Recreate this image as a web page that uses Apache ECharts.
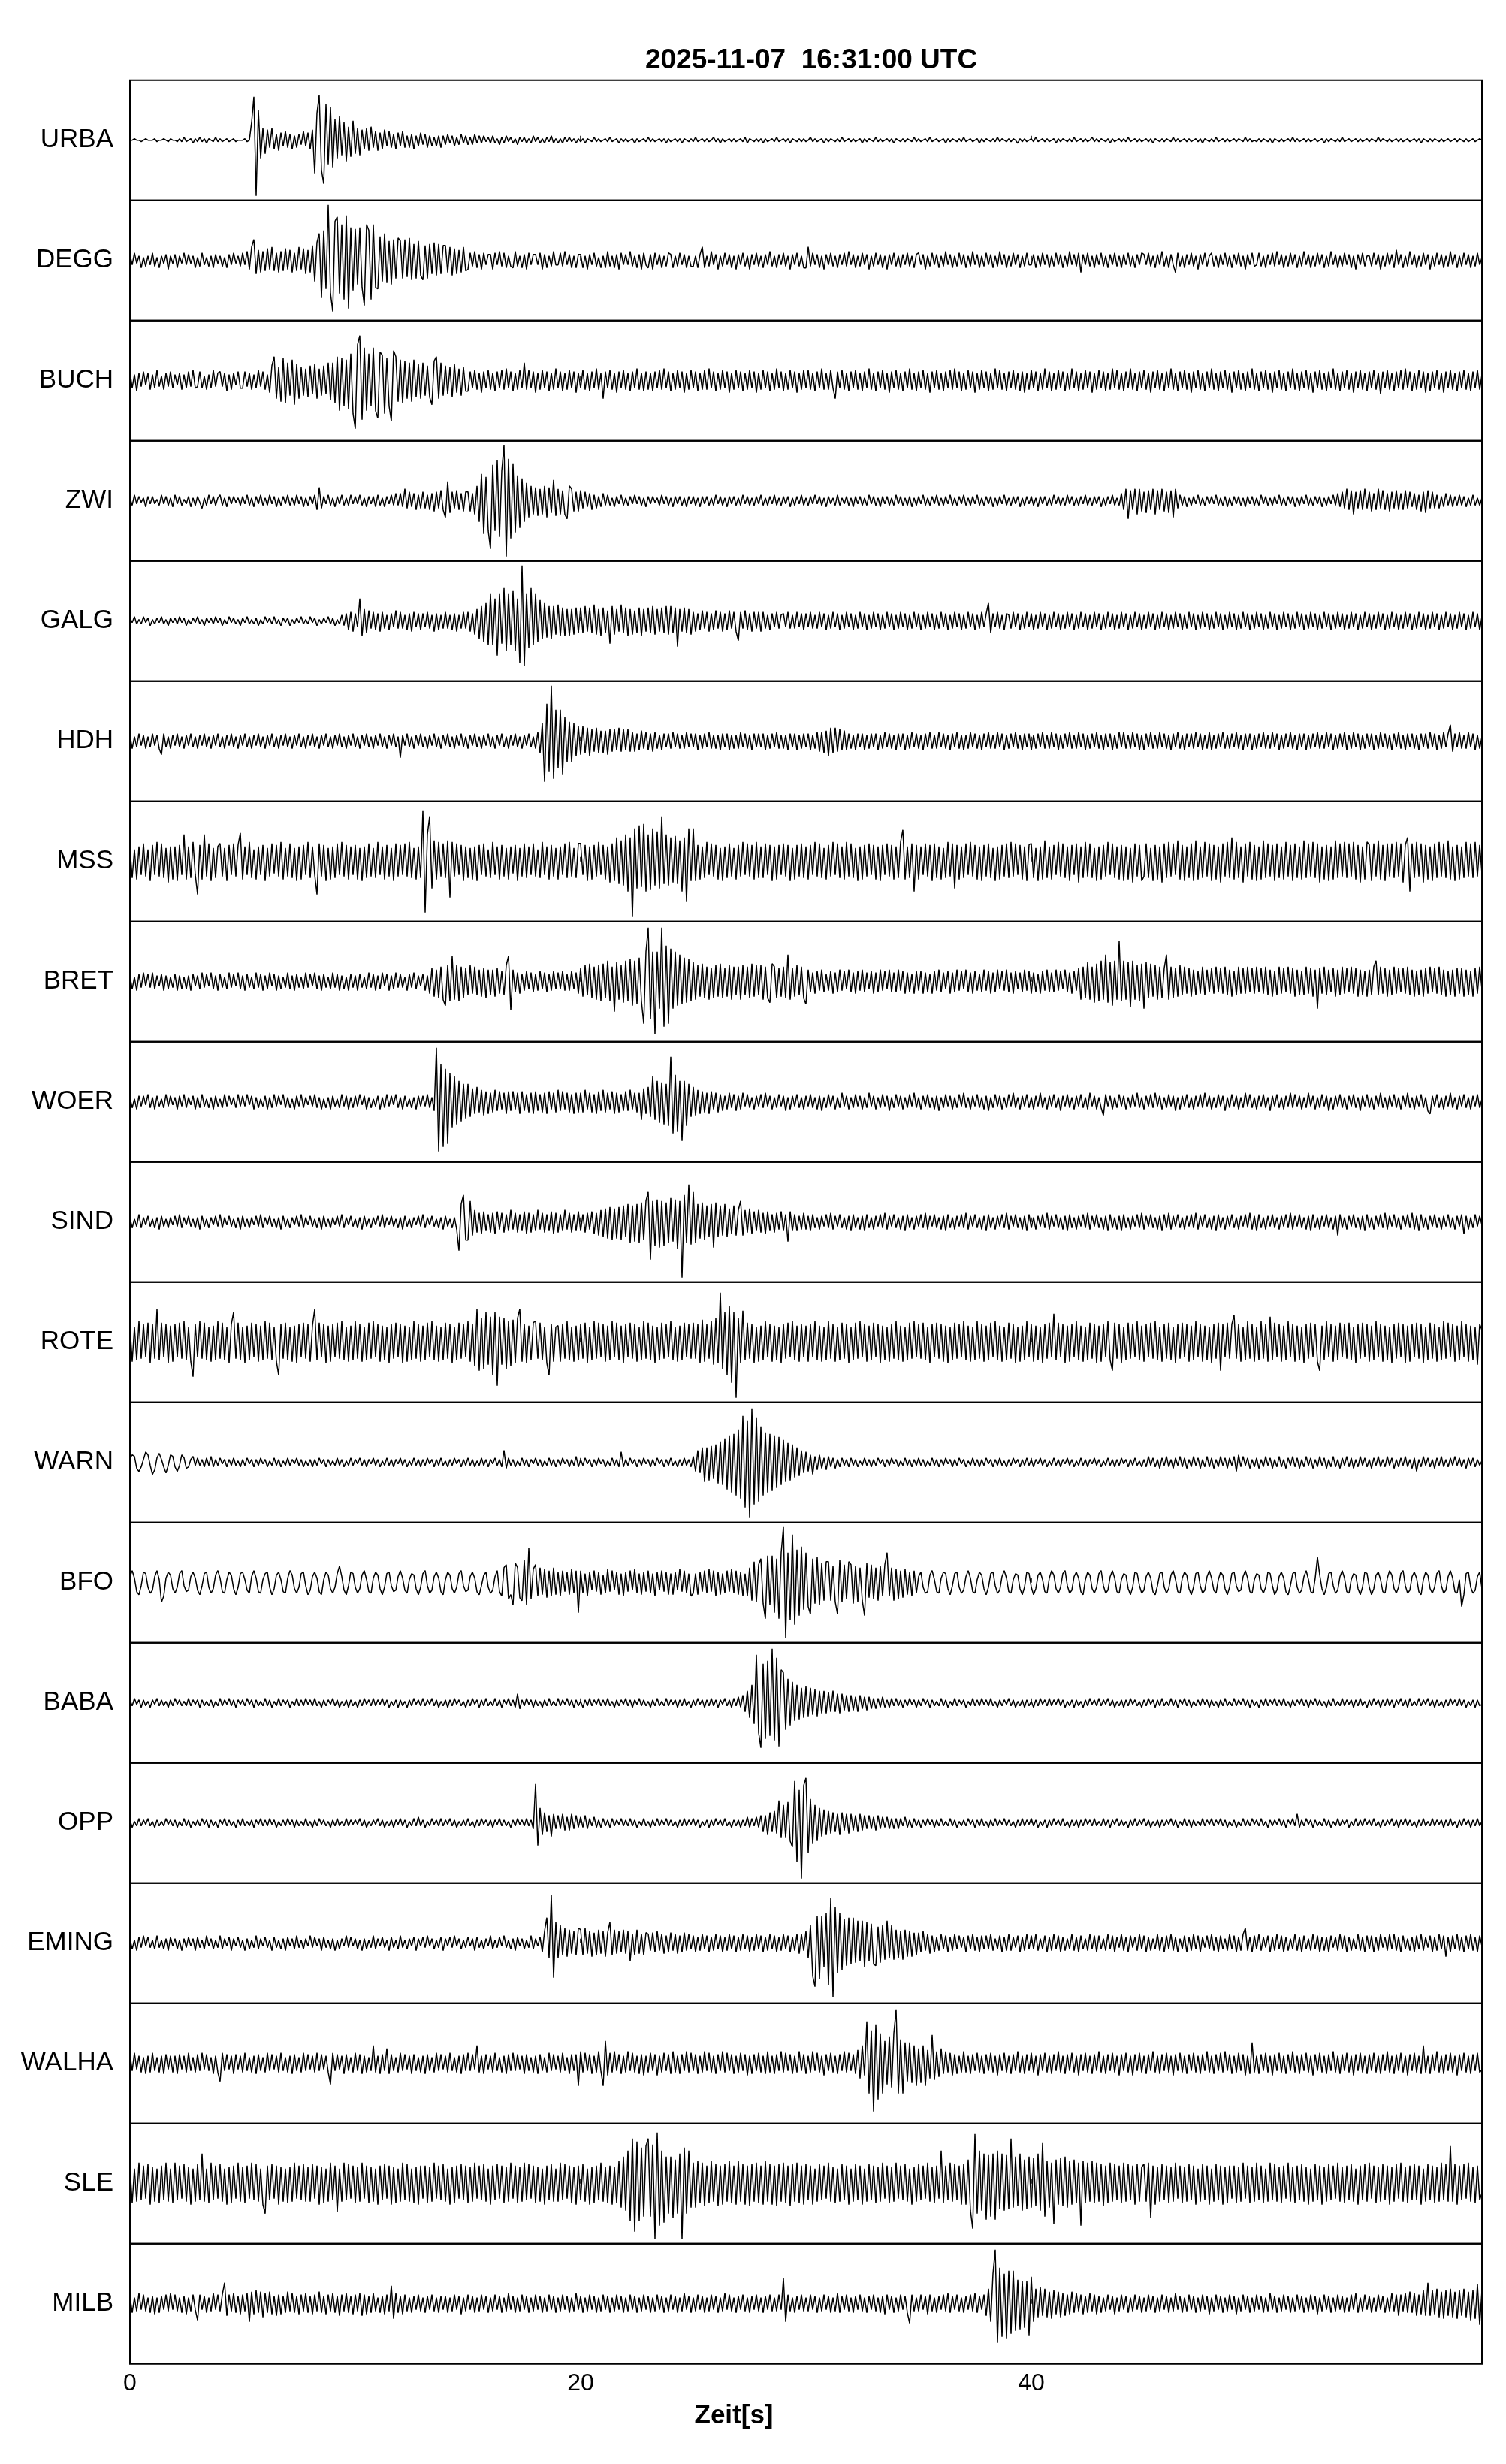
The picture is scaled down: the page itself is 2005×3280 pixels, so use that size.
<!DOCTYPE html>
<html><head><meta charset="utf-8">
<script src="https://cdn.jsdelivr.net/npm/echarts@6/dist/echarts.min.js"></script>
<style>html,body{margin:0;padding:0;background:#fff}#c{width:2005px;height:3280px}</style>
</head><body><div id="c"></div>
<script>
const stations = ['URBA','DEGG','BUCH','ZWI','GALG','HDH','MSS','BRET','WOER','SIND','ROTE','WARN','BFO','BABA','OPP','EMING','WALHA','SLE','MILB'];
const sampleStep = 0.1; // seconds between samples
const xTickLabels = [0, 20, 40];
const titleText = '2025-11-07  16:31:00 UTC';
const xAxisTitle = 'Zeit[s]';

const URBA = [
0,0,1,0,0,-1,0,1,0,0, 0,1,-1,0,0,1,0,-1,1,0, 0,-1,1,-1,2,-1,0,1,-2,1, -1,2,-1,1,-2,1,0,-1,2,-1, 1,-1,0,1,-1,0,1,-1,0,0,
0,1,-1,0,12,29,-37,20,-12,8, -9,7,-5,8,-6,4,-7,5,-4,6, -5,4,-6,3,-5,4,-3,6,-4,5, -6,7,-22,18,30,-20,-29,24,-16,22, -18,14,-12,16,-10,12,-14,9,-11,13,
-9,8,-10,7,-6,8,-7,9,-5,6, -7,5,-6,7,-4,6,-5,4,-6,5, -4,6,-5,3,-5,4,-6,3,-4,5, -3,4,-5,3,-4,2,-4,3,-5,3, -3,4,-2,3,-4,2,-3,4,-2,3,
-3,2,-3,4,-2,3,-2,3,-1,2, -2,3,-2,1,-3,2,-2,3,-1,2, -2,1,-3,2,-1,2,-2,1,-2,3, -1,2,-2,1,-2,2,-1,3,-2,1, -2,1,-2,2,-1,2,-1,1,-2,1,
-1,1,-2,1,0,-1,2,-1,1,-1, 0,1,-1,2,-1,0,1,-2,1,-1, 1,-1,0,1,-2,1,-1,0,1,-1, 2,-1,1,-1,0,1,-1,1,-2,1, -1,0,1,-1,1,-2,1,0,-1,1,
-1,2,-1,0,1,-1,1,-1,0,2, -1,1,-2,1,-1,0,1,-1,1,-1, 0,1,-1,2,-2,1,0,-1,1,-1, 1,-2,1,-1,0,1,-1,2,-1,0, 1,-1,1,-2,1,0,-1,1,-1,1,
-1,0,2,-1,1,-1,0,1,-2,1, -1,1,0,-1,1,-1,2,-1,0,1, -1,1,-1,0,1,-2,1,-1,1,0, -1,2,-1,1,-1,0,1,-1,1,-2, 1,0,-1,1,-1,1,0,-1,2,-1,
1,-1,0,1,-1,2,-1,0,1,-1, 0,1,-2,1,-1,1,0,-1,1,-1, 2,-1,0,1,-1,0,1,-2,1,-1, 1,0,-1,1,-1,2,-1,1,0,-1, 1,-1,1,0,-2,1,-1,1,-1,0,
1,-1,2,-1,0,1,-1,1,-1,0, 1,-2,1,-1,1,0,-1,1,-1,2, -1,0,1,-1,1,-1,0,2,-1,1, -1,1,0,-1,1,-2,1,-1,0,1, -1,1,-1,2,-1,0,1,-1,1,-1,
0,1,-1,1,-2,1,0,-1,1,-1, 1,0,-1,2,-1,1,-1,0,1,-1, 1,-1,0,1,-1,1,-2,1,0,-1, 1,-1,2,-1,0,1,-1,1,-1,0, 1,-1,1,0,-1,2,-1,1,-1,0,
-1,1,-1,1,0,-1,1,-2,1,0, -1,1,-1,0,1,-1,2,-1,1,-1, 0,1,-1,1,-1,0,1,-1,0,1, -2,1,-1,1,0,-1,1,-1,2,-1, 0,1,-1,0,1,-1,1,-1,0,1,
-1,1,0,-1,2,-1,1,0,-1,1, -1,0,1,-1,1,-1,0,1,-1,0, 1,-1,1,-2,1,0,-1,1,-1,1, 0,-1,1,-1,0,1,-1,0,1,-1, 1,0,-1,1,-1,0,1,-1,0,1,
0];

const DEGG = [
4,-3,5,-2,3,-5,2,-4,3,-3, 5,-4,2,-5,3,-2,4,-6,3,-2, 4,-5,3,-2,5,-3,4,-2,3,-5, 2,-4,5,-3,2,-4,3,-5,4,-2, 3,-4,2,-5,4,-3,5,-2,3,-4,
5,-3,6,-6,9,14,-9,7,-8,6, -7,8,-6,9,-7,5,-8,6,-7,8, -6,7,-8,5,-7,9,-6,8,-9,7, -8,10,-14,12,18,-25,20,-19,37,-22, -34,26,29,-22,24,-26,30,-32,22,-20,
21,-16,22,-18,-30,24,20,-26,24,-18, -19,16,-14,18,-15,13,-16,14,-12,15, 13,-12,14,-11,15,-13,11,-12,13,-10, -13,10,-12,11,-9,12,-10,11,-9,10, 10,-8,9,-10,8,-9,7,-8,9,-7,
-6,5,-4,6,-5,4,-6,5,-3,4, 4,-6,5,-3,6,-4,5,-5,3,-4, -5,6,-4,3,-5,4,-6,5,-3,4, 4,-3,5,-6,4,-5,3,-4,6,-3, -3,5,-4,6,-3,4,-5,3,-5,4,
4,-5,3,-6,4,-3,5,-4,2,-5, 3,-5,6,-4,3,-5,4,-6,5,-3, 4,-3,6,-4,3,-5,4,-6,5,-3, -5,4,-6,5,-3,4,-5,3,-4,5, 4,-5,3,-4,5,-3,4,-5,3,-4,
-4,3,-5,4,9,-5,3,-4,6,-3, 4,-6,3,-4,5,-3,4,-5,3,-6, 4,-3,5,-4,3,-6,4,-3,5,-4, 3,-5,4,-3,6,-4,3,-5,4,-3, 5,-4,3,-6,4,-3,5,-4,3,-5,
-5,9,-4,5,-3,4,-5,3,-6,4, -3,5,-4,3,-5,4,-3,5,-4,6, -3,4,-5,3,-4,5,-3,4,-6,3, -4,5,-3,4,-5,3,-6,4,-3,5, -4,3,-5,4,-3,5,-4,3,-5,4,
5,-3,4,-6,3,-4,5,-3,4,-5, 3,-4,6,-3,4,-5,3,-4,5,-3, 4,-5,3,-4,6,-3,4,-5,3,-4, 5,-3,4,-5,3,-4,6,-3,4,-5, 3,-4,5,-3,4,-5,3,-4,5,-3,
-3,4,-5,3,-4,5,-3,4,-5,3, -4,5,-3,4,-5,3,-4,6,-3,4, -4,5,-8,4,-3,5,-4,3,-5,4, -3,5,-4,3,-5,4,-3,5,-4,3, -5,4,-3,5,-4,3,-5,4,-3,5,
4,-3,5,-4,3,-5,4,-3,6,-4, 3,-5,4,-3,-8,5,-4,3,-5,4, -3,5,-4,3,-6,4,-3,5,-4,3, 5,-4,3,-5,4,-3,5,-4,3,-5, 4,-3,5,-4,3,-6,4,-3,5,-4,
-3,5,-4,3,-5,4,-3,5,-4,6, -3,4,-5,3,-4,5,-3,4,-5,3, -4,6,-3,4,-5,3,-4,5,-3,4, -5,3,-4,6,-3,4,-5,3,-4,5, -3,4,-5,3,-6,4,-3,5,-4,3,
3,-4,5,-3,4,-6,3,-4,5,-3, 4,-5,7,-3,4,-5,3,-4,6,-3, 4,-5,3,-4,5,-3,4,-6,3,-4, 5,-3,4,-5,3,-4,6,-3,4,-5, 3,-4,5,-3,4,-5,3,-4,5,-3,
2];

const BUCH = [
6,-5,4,-7,5,-4,6,-3,5,-6, 4,-5,7,-4,3,-6,5,-4,6,-5, 4,-3,5,-6,4,-5,6,-4,7,-5, -4,6,-5,3,-6,4,-5,7,-4,5, 6,-4,5,-7,4,-6,5,-3,6,-5,
-5,6,-4,5,-6,4,-5,7,-4,6, -6,4,-8,10,16,-12,9,-14,15,-15, 12,-10,14,-16,11,-12,9,-10,8,-11, 10,-9,11,-12,8,-10,10,-9,12,-13, 12,-15,16,-20,15,-17,14,-19,18,-22,
-32,24,30,-26,22,-20,18,-17,22,-20, -25,19,17,-22,15,-17,-27,20,16,-14, 14,-15,13,-12,12,-14,14,-11,11,-12, 12,-10,10,-11,-16,13,16,-12,12,-10, 10,-9,9,-11,11,-8,8,-10,9,-7,
-7,6,-5,7,-6,5,-8,6,-5,7, -6,5,-7,6,-5,7,-6,8,-5,6, -7,5,-6,7,-5,12,-6,7,-5,6, -8,5,-6,7,-5,6,-7,5,-6,8, -5,6,-7,5,-6,7,-5,6,-8,5,
-5,7,-6,5,-7,6,-5,8,-6,5, -12,6,-5,7,-6,5,-8,6,-5,7, -6,5,-7,6,-5,8,-6,5,-7,6, -6,5,-7,6,-5,7,-6,8,-5,6, -7,5,-6,7,-5,6,-8,5,-6,7,
-5,6,-7,5,-6,7,-6,8,-5,6, -7,5,-6,7,-5,6,-8,5,-6,7, -5,6,-7,5,-6,7,-5,6,-8,5, -6,7,-5,6,-7,5,-6,8,-5,6, -7,5,-6,7,-5,6,-8,5,-6,7,
-5,7,-6,5,-7,6,-5,8,-6,5, -6,7,-5,-12,6,-5,7,-6,5,-7, 6,-5,7,-6,5,-7,6,-5,8,-6, 5,-7,6,-5,7,-6,5,-8,6,-5, 7,-6,5,-7,6,-5,8,-6,5,-7,
6,-5,7,-6,5,-8,6,-5,7,-6, 5,-7,6,-5,7,-6,8,-5,6,-7, 5,-6,7,-5,6,-8,5,-6,7,-5, 6,-7,5,-6,8,-5,7,-6,5,-7, 6,-5,7,-6,5,-7,6,-8,5,-6,
7,-5,6,-7,5,-6,8,-5,6,-7, 5,-6,7,-5,6,-7,5,-6,8,-5, 6,-7,5,-6,7,-5,6,-8,5,-6, 7,-5,6,-7,5,-6,8,-5,7,-6, 5,-7,6,-5,8,-6,5,-7,6,-5,
7,-6,5,-8,6,-5,7,-6,5,-7, 6,-5,8,-6,5,-7,6,-5,7,-6, 5,-8,6,-5,7,-6,5,-7,6,-5, 8,-6,5,-7,6,-5,7,-6,5,-8, 6,-5,7,-6,5,-7,6,-5,8,-6,
5,-7,6,-5,7,-6,5,-8,6,-5, 7,-6,5,-7,6,-5,8,-6,5,-7, 6,-5,7,-6,5,-8,6,-5,7,-6, 5,-7,6,-5,8,-6,5,-7,6,-5, 7,-6,5,-8,6,-5,7,-6,5,-7,
6,-5,7,-6,5,-9,6,-5,7,-6, 5,-7,6,-5,7,-6,8,-5,6,-7, 5,-6,7,-5,6,-8,5,-7,6,-5, 7,-6,5,-8,6,-5,7,-6,5,-7, 6,-5,7,-6,5,-7,6,-5,7,-6,
4];

const ZWI = [
2,-3,4,-2,3,-1,2,-4,3,-2, 3,-2,1,-3,4,-2,3,-3,2,-4, 4,-2,3,-3,1,-2,3,-4,2,-3, 3,-1,-5,2,-3,4,-2,3,-3,2, 4,-3,2,-4,3,-2,3,-1,2,-3,
3,-2,4,-3,2,-4,3,-2,4,-3, 2,-3,4,-2,3,-4,2,-3,3,-2, 4,-3,2,-3,4,-2,3,-4,2,-3, 3,-2,4,-6,9,-5,3,-2,4,-3, 2,-4,3,-2,4,-3,2,-3,4,-2,
3,-2,4,-3,2,-4,3,-2,3,-4, 4,-3,2,-4,3,-2,4,-3,5,-3, 5,-4,8,-5,6,-4,5,-6,4,-5, 6,-5,4,-6,5,-7,6,-5,7,-6, -11,13,-8,6,-5,7,-6,5,-7,6,
6,-7,5,-9,10,-14,18,-22,16,-20, -32,24,-20,27,-24,20,37,-37,28,-25, 25,-21,17,-18,15,-14,12,-11,10,-9, 9,-10,8,-9,10,-11,9,-8,14,-10, 8,-9,7,-9,-12,10,8,-7,6,-7,
7,-5,6,-4,5,-6,4,-5,3,-4, 5,-3,4,-3,2,-4,3,-2,4,-3, 2,-3,3,-2,4,-2,3,-3,2,-4, 3,-2,3,-1,2,-3,4,-2,3,-3, 2,-4,3,-2,3,-3,2,-4,3,-2,
3,-3,2,-4,3,-2,3,-3,2,-3, 4,-2,3,-3,2,-4,3,-2,3,-3, 2,-3,4,-2,3,-3,2,-3,3,-2, 4,-3,2,-3,3,-2,4,-3,2,-3, 3,-2,3,-4,2,-3,3,-2,4,-3,
2,-3,3,-2,4,-2,3,-3,2,-4, 3,-2,2,-3,4,-3,2,-2,3,-3, 2,-4,3,-2,3,-3,2,-3,4,-2, 3,-3,2,-4,3,-2,3,-3,2,-3, 4,-2,3,-3,2,-3,3,-4,2,-3,
3,-2,4,-3,2,-3,3,-2,4,-3, 2,-3,3,-2,4,-3,2,-3,3,-2, 4,-3,2,-3,3,-2,4,-3,2,-3, 3,-2,3,-4,2,-3,3,-2,4,-3, 2,-3,3,-2,3,-4,2,-3,3,-2,
3,-3,2,-4,3,-2,3,-3,2,-3, 4,-2,3,-3,2,-3,4,-2,3,-3, 2,-3,3,-2,4,-3,2,-3,3,-2, 3,-4,2,-3,3,-2,4,-3,2,-3, 5,-6,8,-12,7,-6,8,-9,8,-7,
6,-8,7,-6,8,-9,7,-6,8,-7, 6,-8,7,-11,8,-5,4,-3,3,-4, 2,-3,3,-2,4,-3,2,-3,3,-2, 3,-2,4,-3,2,-3,3,-4,2,-3, 3,-2,3,-3,2,-4,3,-2,3,-3,
2,-3,4,-2,3,-3,2,-3,3,-2, 4,-3,2,-3,3,-2,3,-4,2,-3, 3,-2,4,-3,2,-3,3,-2,3,-4, 2,-3,3,-2,4,-3,5,-4,6,-5, 8,-6,7,-9,6,-5,7,-6,8,-5,
6,-7,5,-6,8,-5,7,-6,5,-7, 6,-5,7,-6,5,-6,7,-5,6,-4, 5,-6,4,-7,6,-8,7,-5,6,-5, 4,-5,3,-4,5,-3,4,-4,3,-3, 4,-3,3,-4,2,-3,4,-3,2,-3,
2];

const GALG = [
2,-1,3,-2,1,-2,3,-1,2,-3, 1,-2,2,-1,3,-2,1,-3,2,-1, 2,-2,3,-1,2,-3,1,-2,2,-1, 3,-2,1,-3,2,-1,2,-2,3,-1, 2,-3,1,-2,3,-1,2,-2,1,-3,
2,-1,3,-2,1,-2,2,-3,1,-2, 3,-1,2,-2,3,-2,1,-3,2,-1, 2,-3,1,-2,2,-1,3,-2,1,-2, 3,-1,2,-3,1,-2,2,-1,3,-2, 2,-3,1,-2,4,-3,5,-6,6,-7,
5,-4,15,-10,8,-8,7,-5,6,-6, 5,-7,6,-5,4,-6,5,-4,7,-5, 6,-5,4,-6,5,-7,6,-4,5,-6, 5,-4,6,-5,4,-7,5,-6,4,-5, 6,-5,4,-6,5,-7,4,-5,6,-5,
6,-7,5,-9,8,-12,10,-14,12,-16, 18,-16,15,-23,18,-15,22,-20,18,-16, 20,-20,15,-28,37,-30,18,-18,22,-16, 18,-14,14,-12,12,-11,10,-12,10,-9, 11,-10,9,-10,8,-10,8,-9,9,-8,
9,-8,10,-7,9,-8,11,-9,8,-10, 9,-8,7,-15,10,-9,8,-7,11,-8, 9,-10,8,-9,7,-8,9,-10,8,-7, 9,-8,10,-9,8,-7,9,-8,10,-9, 10,-8,9,-17,8,-7,9,-8,8,-9,
6,-7,5,-6,7,-5,6,-7,5,-6, 7,-5,6,-7,5,-6,7,-5,6,-7, -13,6,-5,7,-6,5,-7,6,-5,6, -7,6,-5,4,-6,5,-4,6,-5,4, 5,-4,6,-5,4,-5,6,-4,5,-6,
5,-4,6,-5,4,-5,6,-4,5,-6, 4,-5,6,-4,5,-6,4,-5,6,-4, 5,-6,4,-5,6,-4,5,-6,4,-5, 6,-4,5,-6,4,-5,6,-4,5,-6, 4,-5,6,-4,5,-6,4,-5,6,-4,
5,-6,4,-5,6,-4,5,-6,4,-5, 6,-4,5,-6,4,-5,6,-4,5,-6, 4,-5,6,-4,5,-6,4,-5,6,-4, 5,12,-8,5,-4,6,-5,4,-6,5, 4,-5,6,-4,5,-6,4,-5,6,-4,
5,-6,4,-5,6,-4,5,-6,4,-5, 6,-4,5,-6,4,-5,6,-4,5,-6, 4,-5,6,-4,5,-6,4,-5,6,-4, 5,-6,4,-5,6,-4,5,-6,4,-5, 6,-4,5,-6,4,-5,6,-4,5,-6,
4,-5,6,-4,5,-6,4,-5,6,-4, 5,-6,4,-5,6,-4,5,-6,4,-5, 6,-4,5,-6,4,-5,6,-4,5,-6, 4,-5,6,-4,5,-6,4,-5,6,-4, 5,-6,4,-5,6,-4,5,-6,4,-5,
6,-4,5,-6,4,-5,6,-4,5,-6, 4,-5,6,-4,5,-6,4,-5,6,-4, 5,-6,4,-5,6,-4,5,-6,4,-5, 6,-4,5,-6,4,-5,6,-4,5,-6, 4,-5,6,-4,5,-6,4,-5,6,-4,
5,-6,4,-5,6,-4,5,-6,4,-5, 6,-4,5,-6,4,-5,6,-4,5,-6, 4,-5,6,-4,5,-6,4,-5,6,-4, 5,-6,4,-5,6,-4,5,-6,4,-5, 6,-4,5,-6,4,-5,6,-4,5,-6,
3];

const HDH = [
4,-5,3,-4,5,-3,4,-5,3,-4, 5,-3,4,-5,-9,5,-4,3,-5,4, -3,5,-4,3,-5,4,-3,5,-4,3, -5,4,-3,5,-4,3,-5,4,-3,5, -4,3,-5,4,-3,5,-4,3,-5,4,
-3,5,-4,3,-5,4,-3,5,-4,3, -5,4,-3,5,-4,3,-5,4,-3,5, -4,3,-5,4,-3,5,-4,3,-5,4, -3,5,-4,3,-5,4,-3,5,-4,3, -5,4,-3,5,-4,3,-5,4,-3,5,
-4,3,-5,4,-3,5,-4,3,-5,4, -3,5,-4,3,-5,4,-3,5,-4,3, -11,4,-3,5,-4,3,-5,4,-3,5, -4,3,-5,4,-3,5,-4,3,-5,4, -3,5,-4,3,-5,4,-3,5,-4,3,
-5,4,-3,5,-4,3,-5,4,-3,5, -4,3,-5,4,-3,5,-4,3,-5,4, -3,5,-4,3,-5,4,-3,5,-4,3, -5,6,-8,12,-27,25,-20,37,-25,21, -18,21,-22,16,-14,13,-14,12,-10,10,
-9,10,-8,9,-10,8,-7,9,-8,7, -8,7,-9,8,-7,8,-6,9,-7,8, -6,8,-7,6,-7,5,-6,7,-5,6, -6,5,-7,6,-5,4,-6,5,-4,5, -5,6,-4,5,-5,4,-5,6,-4,5,
-4,5,-6,4,-5,5,-4,6,-5,4, -5,4,-6,5,-4,5,-6,4,-5,4, -5,6,-4,5,-5,4,-6,5,-4,5, -4,5,-6,4,-5,5,-4,6,-5,4, -5,4,-6,5,-4,5,-6,4,-5,5,
-4,5,-6,4,-5,6,-7,6,-8,7, -10,9,-8,9,-7,8,-6,7,-6,5, -5,4,-6,5,-4,5,-6,4,-5,5, -4,5,-6,4,-5,6,-4,5,-5,4, -6,5,-4,5,-6,4,-5,6,-4,5,
-5,4,-6,5,-4,6,-5,4,-5,6, -4,5,-5,4,-6,5,-4,6,-5,4, -6,4,-5,6,-4,5,-5,4,-6,5, -4,6,-5,4,-5,6,-4,5,-6,4, -5,5,-4,6,-5,4,-6,5,-4,5,
-6,4,-5,5,-4,6,-5,4,-5,6, -4,5,-6,4,-5,5,-4,6,-5,4, -5,6,-4,5,-6,4,-5,5,-4,6, -5,4,-6,5,-4,5,-6,4,-5,6, -4,6,-5,4,-5,6,-4,5,-6,4,
-6,5,-4,6,-5,4,-5,6,-4,5, -5,4,-6,5,-4,6,-5,4,-6,5, -4,5,-5,6,-4,5,-6,4,-5,6, -6,4,-5,5,-4,6,-5,4,-5,5, -4,6,-5,4,-6,5,-4,5,-6,4,
-5,5,-4,6,-5,4,-5,6,-4,5, -6,4,-5,5,-4,6,-5,4,-6,5, -4,5,-6,4,-5,5,-4,6,-5,4, -5,6,-4,5,-6,4,-5,5,-4,6, -6,4,-5,6,-4,5,-6,4,-5,5,
-4,5,-6,4,-5,6,-4,5,-5,4, -6,5,-4,6,-5,4,-6,5,-4,5, -5,4,-6,5,-4,5,-5,6,-4,5, -6,4,-5,6,-4,5,11,-7,5,-4, 6,-5,4,-5,6,-4,5,-6,4,-5,
3];

const MSS = [
9,-11,8,-12,10,-9,12,-10,8,-13, 11,-9,13,-10,12,-11,9,-14,10,-12, 10,-13,11,-9,18,-12,10,-11,13,-9, -22,11,-12,18,-10,12,-13,9,-11,10, 12,-10,9,-13,11,-9,12,-10,11,19,
-12,10,-9,13,-11,8,-12,10,-9,11, -13,9,-10,12,-8,11,-10,13,-12,9, -10,12,-11,9,-13,10,-12,11,-9,13, -11,10,-9,-22,12,-10,11,-13,9,-12, 10,-11,12,-9,13,-10,11,-12,10,-9,
11,-12,9,-13,10,-11,12,-10,9,-11, 13,-9,10,-12,11,-10,9,-13,12,-10, 11,-9,12,-10,13,-11,9,-12,10,-11, 34,-34,18,30,-18,14,-12,13,-10,12, -11,14,-24,13,-10,12,-9,11,-13,10,
-11,9,-12,10,-13,11,-9,12,-10,8, -11,13,-9,10,-12,11,-10,9,-12,10, -8,11,-13,9,-10,12,-11,10,-9,12, -10,8,-11,13,-9,10,-12,11,-10,9, -12,10,-9,12,-11,13,-10,9,-11,12,
12,-9,11,-13,10,-12,11,-10,13,-9, 11,-12,10,-14,12,-13,16,-15,14,-16, 18,-20,16,-37,22,-18,24,-17,25,-20, 18,-19,22,-16,20,-18,30,-15,18,-16, 16,-14,17,-15,14,-20,16,-27,22,-13,
22,-13,11,-12,10,-11,13,-9,12,-10, 11,-12,9,-13,10,-11,12,-10,9,-12, 11,-10,13,-9,12,-10,11,-12,13,-11, 10,-11,12,-9,11,-13,10,-12,11,-9, 12,-10,11,-13,9,-12,11,-10,12,-11,
10,-12,11,-9,13,-10,12,-11,9,-12, 11,-10,13,-9,12,-11,10,-12,13,-10, 12,-11,9,-13,10,-12,11,-10,12,-9, 11,-12,10,-13,11,-9,12,-10,11,-12, 10,-11,13,21,-12,10,-11,12,-20,11,
-12,10,-9,12,-10,11,-13,12,-11,10, -12,9,-11,13,-10,12,-18,11,-12,10, -11,12,-9,13,-10,11,-12,10,-13,11, -10,12,-11,9,-13,10,-12,11,-10,12, -11,13,-10,12,-9,11,-12,10,-13,11,
12,-11,9,-13,10,-12,14,-11,10,-12, 11,-9,13,-10,12,-11,10,-13,11,-9, 12,-14,10,-11,13,-10,12,-11,9,-13, 10,-12,11,-10,13,-9,12,-11,10,-12, 11,-13,10,-12,9,-14,12,-10,11,-13,
-10,12,-11,9,-13,11,-12,10,-14,12, -11,13,-10,12,-9,14,-12,11,-13,10, -11,12,-13,14,-12,10,-11,13,-10,12, -13,11,-12,10,-14,12,-10,13,-11,16, -12,13,-11,10,-14,12,-10,13,-12,11,
-13,10,-12,14,-11,12,-10,11,-13,12, -11,10,-12,13,-10,11,-13,12,-11,10, -12,14,-11,12,-10,13,-11,12,-14,10, -12,11,-13,10,-12,14,-11,12,-10,13, -11,12,-10,13,-12,11,-14,10,-12,13,
11,-13,12,-10,14,-12,11,-13,12,-10, 12,-11,13,-10,12,-14,11,16,-20,12, -11,13,-10,12,-14,11,-12,10,-13,12, -11,13,-10,12,-11,14,-12,10,-13,11, -12,10,-11,13,-10,12,-11,13,-10,11,
-8];

const BRET = [
4,-5,3,-6,5,-4,6,-3,5,-4, 6,-5,4,-3,5,-6,4,-5,3,-4, 5,-6,4,-5,3,-5,4,-6,5,-3, 4,-5,6,-4,5,-3,6,-5,4,-6, 5,-4,3,-5,6,-4,5,-3,6,-5,
4,-6,5,-4,3,-5,6,-4,5,-6, 4,-5,6,-3,5,-6,4,-5,3,-4, 6,-5,4,-6,5,-4,3,-5,6,-4, 5,-3,6,-5,4,-6,5,-4,3,-5, 6,-4,5,-6,4,-5,3,-6,5,-4,
4,-6,5,-4,3,-5,6,-4,5,-6, 4,-5,6,-3,5,-6,4,-5,6,-4, 5,-4,3,-6,5,-4,6,-5,4,-3, 5,-6,4,-8,9,-10,8,-11,10,-12, -16,11,-13,17,-12,11,-13,10,-11,9,
-9,11,-8,10,-9,8,-10,9,-11,8, -9,8,-10,9,-8,7,-9,11,17,-19, 8,-7,6,-8,5,-6,7,-5,6,-7, 5,-6,7,-5,6,-7,5,-6,7,-5, 6,-5,7,-6,5,-6,7,-5,6,-8,
9,-10,11,-9,12,-11,10,-12,11,-13, 12,-11,14,-13,10,-20,13,-12,11,-14, 14,-13,15,-16,14,-15,16,-13,-28,20, 36,-25,20,-35,20,-18,36,-30,24,-28, 22,-18,20,-16,18,-15,16,-14,15,-13,
13,-12,11,-10,12,-11,10,-12,9,-11, 11,-10,12,-11,9,-10,11,-12,10,-9, 10,-12,11,-9,10,-11,12,-10,11,-9, 11,-12,10,-11,-14,12,10,-11,9,-10, 10,-11,18,-12,9,-10,11,-9,10,-11,
-15,8,-7,6,-8,7,-6,8,-7,5, -6,7,-8,6,-7,8,-6,7,-5,8, -7,6,-8,7,-6,8,-7,6,-5,7, -8,6,-7,8,-6,7,-5,8,-7,6, -7,8,-6,7,-8,6,-7,5,-8,7,
-6,7,-8,6,-7,5,-8,7,-6,8, -7,6,-5,7,-8,6,-7,8,-6,7, -5,8,-7,6,-8,7,-6,5,-7,8, -6,7,-8,6,-7,8,-5,7,-6,8, -7,6,-8,7,-5,6,-7,8,-6,7,
-8,6,-7,5,-8,7,-6,8,-7,6, -7,8,-6,7,-5,8,-7,6,-8,7, -6,9,-12,10,-11,13,-12,10,-14,12, -13,14,-12,18,-14,13,-16,14,-12,27, -13,14,-12,13,-17,14,-12,11,-13,12,
-18,13,-11,12,-10,11,-12,10,-11,9, 18,-12,10,-11,9,-10,11,-9,10,-8, 9,-10,8,-9,7,-8,10,-9,8,-7, 9,-8,10,-7,9,-8,10,-9,8,-10, 7,-9,10,-8,9,-8,10,-7,9,-8,
10,-7,9,-8,10,-9,8,-10,7,-9, 10,-8,9,-7,10,-8,9,-10,8,-9, 7,-9,10,-8,9,-10,8,-18,9,-8, 10,-9,8,-7,9,-10,8,-9,10,-8, 9,-7,10,-8,9,-10,8,-9,7,-10,
8,-9,10,14,-9,10,-8,9,-10,8, -9,10,-8,9,-7,9,-8,10,-9,8, -10,7,-9,8,-10,9,-8,10,-7,9, -8,10,-9,8,-10,7,-9,8,-10,9, -8,9,-10,8,-9,7,-10,9,-8,10,
-5];

const WOER = [
3,-4,2,-5,4,-3,4,-2,5,-4, 3,-5,4,-3,2,-4,5,-3,4,-2, 3,-5,4,-3,5,-4,3,-2,4,-5, 3,-4,5,-3,2,-4,3,-5,4,-3, 2,-4,5,-3,4,-2,3,-4,5,-3,
4,-3,5,-2,4,-5,3,-4,2,-3, 4,-5,3,-4,5,-3,4,-2,5,-4, 3,-4,2,-5,4,-3,5,-4,3,-2, 4,-3,5,-4,3,-5,2,-4,3,-5, 4,-3,2,-4,5,-3,4,-5,3,-4,
4,-3,5,-2,4,-5,3,-4,2,-3, 4,-5,3,-4,5,-3,4,-2,5,-4, 3,-5,4,-3,2,-4,3,-5,4,-3, 4,-3,5,-4,3,-6,36,-33,25,-30, 22,-28,19,-17,17,-15,14,-13,12,-11,
12,-10,9,-8,10,-7,8,-9,7,-8, 6,-7,8,-6,7,-5,6,-8,7,-6, 7,-5,6,-8,7,-6,5,-7,6,-8, 7,-6,5,-7,6,-8,7,-5,6,-7, 8,-6,7,-5,6,-7,5,-8,6,-7,
6,-7,8,-5,6,-7,5,-8,7,-6, 8,-7,6,-5,7,-8,6,-7,5,-6, 7,-6,8,-5,6,-7,6,-12,9,-8, 10,-10,17,-12,14,-14,13,-15,12,-16, 30,-21,18,-20,14,-26,14,-16,12,-10,
10,-9,8,-8,7,-7,6,-8,7,-5, 6,-7,5,-6,4,-5,6,-4,5,-6, 4,-5,6,-3,5,-4,3,-5,4,-3, 5,-4,6,-3,4,-5,3,-4,5,-3, 4,-6,3,-5,4,-3,5,-4,3,-5,
4,-3,5,-4,3,-5,4,-6,3,-4, 5,-3,4,-5,3,-4,6,-3,4,-5, 3,-4,5,-3,4,-5,3,-4,6,-3, 4,-5,3,-4,5,-3,4,-6,3,-4, 5,-3,4,-5,3,-4,5,-3,6,-4,
3,-5,4,-3,5,-4,3,-5,4,-6, 3,-4,5,-3,4,-5,3,-4,5,-3, 6,-4,3,-5,4,-3,5,-4,3,-5, 4,-6,3,-4,5,-3,4,-5,3,-4, 5,-3,6,-4,3,-5,4,-3,5,-4,
3,-5,4,-3,6,-4,3,-5,4,-3, 5,-4,3,-6,4,-3,5,-4,3,-5, 4,-3,5,-4,3,-5,6,-3,4,-5, 3,-4,-9,5,-3,4,-5,3,-4,5, -3,4,-5,3,-4,5,-3,6,-4,3,
-5,4,-3,5,-4,6,-3,4,-5,3, -4,5,-3,4,-6,3,-5,4,-3,5, -4,3,-5,4,-3,5,-4,6,-3,4, -5,3,-4,5,-3,4,-6,3,-4,5, -3,4,-5,3,-4,6,-3,5,-4,3,
-5,4,-3,5,-4,3,-6,4,-3,5, -4,3,-5,4,-3,6,-4,5,-3,4, -5,3,-4,6,-3,4,-5,3,-4,5, -3,4,-6,3,-5,4,-3,5,-4,3, -5,4,-3,5,-4,3,-6,4,-3,5,
-4,3,-5,4,-3,6,-4,3,-5,4, -3,5,-4,3,-5,4,-3,6,-4,3, -5,4,-3,5,-4,3,-6,-8,4,-3, 5,-4,3,-5,4,-3,6,-4,3,-5, 4,-3,5,-4,3,-5,4,-3,5,-4,
2];

const SIND = [
3,-4,2,-3,5,-4,3,-2,4,-3, 2,-4,3,-5,4,-3,2,-4,3,-2, 4,-3,5,-4,3,-2,4,-3,2,-4, 3,-5,4,-3,2,-4,3,-2,4,-3, 5,-4,3,-2,4,-3,2,-4,3,-5,
4,-3,2,-4,3,-2,4,-3,5,-4, 3,-2,4,-3,2,-4,3,-5,4,-3, 2,-4,3,-2,4,-3,5,-4,3,-2, 4,-3,2,-4,3,-5,4,-3,2,-4, 3,-2,4,-3,5,-4,3,-2,4,-3,
2,-4,3,-5,4,-3,2,-4,3,-2, 4,-3,5,-4,3,-2,4,-3,2,-4, 3,-5,4,-3,2,-4,3,-2,4,-3, 5,-4,3,-2,4,-3,2,-4,3,-5, 4,-3,2,-4,3,-5,-19,12,18,-12,
-12,14,-9,8,-7,6,-8,7,-6,5, -7,6,-8,7,-5,6,-7,5,-6,8, -5,6,-7,5,-6,7,-8,6,-7,5, -6,8,-5,6,-7,5,-6,7,-8,6, -7,5,-6,8,-5,6,-7,5,-6,7,
-6,5,-7,6,-5,7,-8,6,-9,8, -10,9,-11,10,-12,9,-11,10,-12,11, -10,12,-14,11,-13,12,-14,13,-12,14, 20,-25,14,-16,15,-17,14,-16,13,-14, 16,-13,15,-18,14,-37,18,-14,25,-15,
20,-14,12,-11,13,-12,11,-10,12,-17, 13,-10,11,-9,12,-10,9,-8,11,-9, 8,14,-9,8,-7,9,-8,7,-6,8, -7,6,-8,7,-6,5,-7,6,-5,7, -6,5,-13,7,-6,5,-6,4,-5,6,
-5,4,-6,5,-4,3,-5,4,-3,5, -4,6,-5,4,-3,5,-4,3,-5,4, -6,5,-4,3,-5,4,-6,5,-4,3, -5,4,-3,5,-4,6,-5,4,-3,5, -4,3,-5,4,-6,5,-4,3,-5,4,
-3,5,-4,6,-5,4,-3,5,-4,3, -5,4,-6,5,-4,3,-5,4,-3,5, -4,6,-5,4,-3,5,-4,3,-5,4, -6,5,-4,3,-5,4,-3,5,-4,6, -5,4,-3,5,-4,3,-5,4,-6,5,
-4,3,-5,4,-3,5,-4,6,-5,4, -3,5,-4,3,-5,4,-6,5,-4,3, -5,4,-3,5,-4,6,-5,4,-3,5, -4,3,-5,4,-6,5,-4,3,-5,4, -6,5,-4,3,-5,4,-3,5,-4,6,
-5,4,-3,5,-4,3,-5,4,-6,5, -4,6,-5,4,-3,5,-4,3,-5,4, -3,5,-4,6,-5,4,-3,5,-4,3, -5,4,-6,5,-4,3,-5,4,-3,5, -4,3,-5,4,-3,5,-4,6,-5,4,
-6,5,-4,3,-5,4,-3,5,-4,3, -5,4,-3,5,-4,6,-5,4,-3,5, -4,3,-5,4,-6,5,-4,3,-5,4, -3,5,-4,3,-5,4,-9,5,-4,3, -5,4,-3,5,-4,3,-5,4,-6,5,
-4,3,-5,4,-3,5,-4,6,-5,4, -3,5,-4,3,-5,4,-3,5,-4,6, -5,4,-6,5,-4,3,-5,4,-3,5, -4,3,-5,4,-3,5,-4,3,-5,4, -3,5,-8,4,-5,3,-4,5,-3,4,
-2];

const ROTE = [
11,-13,10,-12,14,-11,12,-10,13,-14, 12,-11,22,-12,13,-10,12,-14,11,-13, 12,-10,13,-11,14,-12,10,-13,-23,12, -10,14,-11,13,-12,10,-13,11,-12,14, -11,13,-12,10,-14,12,20,-11,13,-12,
10,-14,11,-12,13,-10,12,-13,11,-12, 14,-11,13,-12,10,-13,-22,12,-11,13, -12,10,-13,11,-14,12,-10,13,-11,12, -13,11,22,-12,13,-10,12,-14,11,-13, 12,-10,13,-11,14,-12,10,-13,11,-12,
14,-11,12,-13,10,-12,13,-11,14,-10, 12,-13,11,-12,10,-14,12,-11,13,-10, 12,-14,11,-13,10,-12,14,-11,12,-13, 11,-12,13,-10,14,-12,11,-13,10,-12, 13,-11,12,-14,10,-12,13,-11,12,-10,
14,-13,12,-16,22,-19,16,-18,20,-15, 17,-22,20,-29,17,-15,16,-18,14,-16, 15,-14,16,22,-13,12,-14,11,-12,13, 14,-11,13,-12,10,-14,-22,12,-13,10, 11,-13,12,-11,14,-12,10,-13,11,-12,
12,-11,13,-14,10,-12,14,-11,13,-10, 12,-13,11,-12,14,-10,13,-12,11,-14, 12,-10,13,-11,12,-13,10,-12,14,-11, 13,-12,11,-14,10,-12,13,-11,12,-10, 14,-12,10,-13,11,-12,13,-10,12,-11,
13,-11,12,-14,15,-13,12,-11,14,-15, 16,-14,33,-18,20,-22,24,-27,20,-37, 16,-14,21,-12,13,-11,12,-14,10,-13, 11,-12,14,-10,12,-13,11,-12,10,-14, 12,-11,13,-10,14,-12,11,-13,12,-10,
11,-13,12,-10,14,-12,11,-13,10,-12, 14,-11,12,-13,10,-12,13,-11,12,-14, 10,-12,13,-11,14,-10,12,-13,11,-12, 13,-10,12,-14,11,-12,10,-13,12,-11, 14,-12,11,-13,10,-12,13,-11,14,-10,
12,-11,13,-12,10,-14,12,-10,13,-11, 12,-13,11,-14,10,-12,13,-11,12,-10, 14,-12,11,-13,10,-12,14,-11,12,-13, 11,-12,13,-10,14,-12,11,-13,10,-12, 13,-11,12,-14,10,-13,11,-12,14,-10,
12,-13,11,-12,10,-14,12,-11,13,-10, 19,-12,13,-10,12,-14,11,-13,12,-10, 14,-12,11,-13,10,-12,13,-11,12,-14, 11,-13,12,-10,14,-12,-19,13,-11,12, -14,10,-12,13,-11,12,-10,14,-12,11,
-13,12,-10,13,-11,14,-12,10,-13,12, -11,13,-12,10,-14,12,-11,13,-10,12, -13,11,-12,14,-10,12,-13,11,-12,10, -14,12,-11,13,-19,12,-10,13,-11,12, 18,-11,12,-13,10,-12,14,-11,12,-13,
10,-12,14,-11,12,-13,17,-12,13,-10, 12,-13,11,-12,14,-10,12,-13,11,-12, 10,-14,12,-11,13,-10,12,-13,-19,11, -12,14,-10,12,-13,11,-12,13,-10,12, -11,13,-12,10,-14,12,-11,13,-10,12,
-13,11,-12,14,-10,12,-13,11,-12,10, -14,12,-11,13,-10,12,-14,11,-13,12, -10,13,-11,12,-14,10,-12,13,-11,12, -13,10,-12,14,-11,13,-10,12,-13,11, -12,14,-10,12,-13,11,-12,10,-15,12,
8];

const WARN = [
3,5,4,-4,-6,-3,2,7,5,-2, -8,-5,3,6,2,-3,-7,-2,5,4, -3,-6,-2,5,3,-4,-3,2,4,-2, 3,-2,2,-3,3,-2,4,-3,2,-2, 3,-1,2,-3,2,-2,3,-2,1,-3,
2,-2,3,-1,2,-3,2,-2,3,-1, 2,-3,1,-2,3,-2,2,-3,1,-2, 3,-2,2,-1,3,-2,2,-3,1,-2, 2,-3,2,-2,3,-1,2,-3,2,-2, 1,-2,3,-2,2,-3,1,-2,3,-2,
2,-1,3,-2,2,-3,2,-1,3,-2, 2,-3,1,-2,3,-2,2,-3,2,-1, 3,-2,2,-3,1,-2,3,-2,2,-3, 2,-2,3,-1,2,-3,2,-2,3,-2, 1,-3,2,-2,3,-1,2,-3,2,-2,
3,-2,2,-3,1,-2,3,-2,2,-3, 2,-1,3,-2,2,-3,8,-4,3,-2, 2,-3,1,-2,3,-2,2,-3,2,-1, 3,-2,2,-3,1,-2,3,-2,2,-3, 2,-2,3,-1,2,-3,2,-2,4,-3,
2,-2,3,-1,2,-3,2,-2,3,-1, 2,-3,1,-2,3,-2,2,-3,7,-3, 2,-2,3,-1,2,-3,2,-2,3,-1, 2,-3,2,-2,3,-1,2,-3,2,-2, 3,-2,1,-3,2,-2,3,-2,2,-3,
4,-6,8,-7,10,-13,10,-12,11,-11, 12,-14,14,-15,16,-18,18,-20,19,-22, 22,-24,31,-30,28,-37,36,-28,30,-26, 24,-22,20,-20,19,-19,18,-17,17,-15, 15,-13,13,-12,12,-10,10,-9,8,-7,
7,-6,5,-8,4,-5,5,-4,3,-5, 4,-3,3,-4,2,-3,3,-2,2,-3, 3,-2,2,-3,1,-2,3,-2,2,-3, 2,-2,3,-1,2,-3,2,-2,3,-1, 2,-3,1,-2,3,-2,2,-3,2,-2,
3,-2,2,-3,1,-2,3,-2,2,-3, 2,-2,3,-1,2,-3,2,-2,3,-1, 2,-3,1,-2,3,-2,2,-3,2,-2, 3,-1,2,-3,2,-2,3,-2,1,-3, 2,-2,3,-1,2,-3,2,-2,3,-2,
2,-3,2,-1,3,-2,2,-3,1,-2, 3,-2,2,-3,2,-1,3,-2,2,-3, 1,-2,3,-2,2,-3,2,-1,3,-2, 2,-3,1,-2,3,-2,2,-3,2,-2, 3,-1,2,-3,2,-2,3,-2,1,-3,
2,-3,4,-2,3,-3,2,-4,3,-2, 4,-3,2,-4,3,-2,4,-3,3,-4, 2,-3,4,-2,3,-4,2,-3,4,-3, 3,-4,2,-3,4,-2,3,-4,3,-2, 4,-6,5,-3,4,-2,3,-4,2,-3,
3,-4,2,-3,4,-2,3,-4,2,-3, 4,-3,2,-4,3,-2,4,-3,3,-4, 2,-3,4,-2,3,-4,2,-3,4,-2, 3,-4,2,-3,4,-3,2,-4,3,-2, 4,-3,3,-4,2,-3,4,-2,3,-3,
2,-4,3,-2,4,-3,2,-3,4,-2, 3,-4,2,-3,3,-2,4,-3,2,-4, 3,-6,2,-3,4,-2,3,-3,2,-4, 3,-2,4,-3,2,-3,3,-2,4,-2, 3,-3,2,-4,3,-2,3,-3,2,-2,
1];

const BFO = [
4,8,3,-6,-8,-2,7,6,-3,-7, -5,4,8,2,-13,-9,3,7,5,-4, -7,-3,6,8,-2,-6,-5,4,7,3, -5,-8,-2,6,7,-3,-7,-4,5,8, 3,-6,-7,2,7,5,-4,-8,-3,6,
7,2,-5,-7,4,8,3,-6,-7,2, 6,7,-3,-8,-4,5,7,2,-6,-7, 3,8,5,-4,-7,-3,6,7,-2,-8, -5,4,7,3,-6,-8,2,7,5,-4, -7,-3,6,11,4,-5,-8,-2,7,6,
-3,-7,-4,5,8,2,-6,-7,3,7, 5,-4,-8,-3,6,7,-2,-6,-5,4, 8,3,-5,-7,2,6,5,-4,-8,-3, 6,8,-2,-7,-5,4,7,3,-6,-8, 2,7,5,-4,-7,-3,6,8,-2,-6,
-5,4,7,3,-6,-8,-2,5,7,-3, -7,-5,4,8,-6,-9,10,12,-11,-8, -15,13,10,-10,-12,15,-15,23,-11,9, 12,-9,10,-8,9,-10,8,-9,10,-8, 7,-9,8,-6,7,-8,9,-7,8,-20,
8,-7,6,-9,7,-5,8,-6,7,-8, 5,-7,9,-6,8,-5,7,-8,6,-9, 7,-6,8,-5,9,-7,6,-8,7,-6, 8,-7,6,-9,7,-5,8,-6,7,-8, 6,-8,7,-5,9,-6,8,-7,6,-9,
-7,6,-8,7,-6,8,-7,9,-6,8, -9,7,-8,6,-7,8,-6,9,-7,8, -8,7,-9,6,-9,10,-12,14,-13,12, 16,-14,-24,18,-15,18,-20,16,-24,20, 37,-37,20,-25,32,-28,22,-22,24,-18,
20,-16,-21,16,-14,17,-15,13,-12,14, 14,-12,11,-13,-21,15,-13,12,-11,14, 12,-14,11,-13,10,-12,-22,13,-10,12, -11,10,-12,11,-9,12,20,-9,10,-12, 9,-11,8,-10,9,-8,7,-9,8,-7,
4,7,-3,-7,-6,5,8,2,-6,-7, 3,7,6,-4,-8,-2,6,7,-3,-7, -5,4,8,3,-6,-7,2,7,5,-4, -8,-3,6,7,-2,-7,-5,4,8,3, -6,-7,2,6,5,-4,-8,-3,7,6,
-3,-8,-4,5,7,2,-6,-7,3,8, 5,-4,-7,-3,6,8,-2,-7,-5,4, 7,3,-6,-8,2,7,5,-4,-7,-3, 6,8,-2,-7,-5,4,8,3,-6,-7, 2,6,5,-4,-8,-3,7,6,-2,-7,
-5,4,7,3,-6,-8,-2,6,7,-3, -7,-4,5,8,2,-6,-7,3,7,5, -4,-8,-3,6,7,-2,-7,-5,4,8, 3,-5,-7,2,7,5,-4,-8,-3,6, 7,-2,-6,-5,4,8,3,-6,-7,2,
6,5,-4,-7,-3,7,6,-2,-8,-5, 4,7,3,-6,-8,-2,6,7,-3,-7, -5,4,8,2,-6,-7,3,17,5,-4, -8,-3,6,7,-2,-7,-5,4,8,3, -6,-7,2,6,5,-4,-8,-3,7,6,
-3,-8,-4,5,7,2,-6,-7,3,8, 5,-4,-7,-3,6,8,-2,-7,-5,4, 7,3,-6,-8,2,7,5,-4,-7,-3, 6,8,-2,-7,-5,4,8,3,-6,-7, 2,-16,-8,6,7,-3,-7,-5,4,7,
-4];

const BABA = [
2,-2,3,-1,2,-3,2,-2,1,-3, 2,-1,3,-2,2,-2,1,-3,2,-2, 3,-1,2,-2,1,-2,3,-2,2,-1, 2,-3,2,-2,1,-2,2,-3,1,-2, 3,-2,2,-1,3,-2,2,-3,2,-1,
2,-2,3,-1,2,-3,2,-2,1,-2, 3,-2,2,-3,1,-2,3,-2,2,-1, 2,-3,1,-2,3,-2,2,-2,3,-1, 2,-2,3,-2,1,-3,2,-2,2,-1, 3,-2,2,-3,1,-2,2,-3,2,-2,
1,-3,2,-2,3,-1,2,-2,3,-2, 2,-1,3,-2,2,-3,1,-2,2,-3, 2,-2,1,-3,2,-2,3,-1,2,-2, 3,-2,2,-1,3,-2,2,-3,1,-2, 2,-3,2,-2,3,-1,2,-2,1,-3,
2,-2,3,-1,2,-3,2,-2,3,-2, 1,-2,3,-2,2,-3,2,-1,3,-2, 2,-3,6,-4,2,-2,3,-1,2,-3, 2,-2,1,-3,2,-2,3,-2,1,-2, 3,-2,2,-1,3,-2,2,-3,2,-2,
1,-3,2,-2,3,-2,2,-1,3,-2, 2,-2,3,-2,1,-3,2,-2,2,-1, 3,-2,2,-3,2,-1,3,-2,2,-2, 1,-3,2,-2,3,-2,1,-2,3,-2, 2,-1,2,-3,2,-2,3,-2,1,-3,
2,-2,3,-1,2,-3,2,-2,3,-2, 2,-3,2,-1,3,-2,2,-3,3,-2, 4,-3,5,-6,8,-10,12,-14,32,-20, -30,26,-24,28,-22,36,-25,30,-29,22, 20,-18,16,-15,14,-12,12,-11,10,-10,
11,-9,10,-8,9,-9,8,-7,8,-7, 7,-6,8,-6,6,-7,6,-5,5,-6, 5,-5,4,-6,5,-4,4,-5,4,-4, 3,-4,3,-3,4,-3,2,-3,3,-2, 3,-2,2,-3,2,-2,3,-1,2,-3,
2,-2,3,-1,2,-3,2,-2,1,-2, 3,-2,2,-3,1,-2,3,-2,2,-1, 2,-3,1,-2,3,-2,2,-2,3,-1, 2,-2,3,-2,1,-3,2,-2,2,-1, 3,-2,2,-3,1,-2,2,-3,2,-2,
1,-3,2,-2,3,-1,2,-2,3,-2, 2,-1,3,-2,2,-3,1,-2,2,-3, 2,-2,1,-3,2,-2,3,-1,2,-2, 3,-2,2,-1,3,-2,2,-3,1,-2, 2,-3,2,-2,3,-1,2,-2,1,-3,
2,-2,3,-1,2,-3,2,-2,3,-2, 1,-2,3,-2,2,-3,2,-1,3,-2, 2,-3,1,-2,2,-2,3,-1,2,-3, 2,-2,1,-3,2,-2,3,-2,1,-2, 3,-2,2,-1,3,-2,2,-3,2,-2,
1,-3,2,-2,3,-2,2,-1,3,-2, 2,-2,3,-2,1,-3,2,-2,2,-1, 3,-2,2,-3,2,-1,3,-2,2,-2, 1,-3,2,-2,3,-2,1,-2,3,-2, 2,-1,2,-3,2,-2,3,-2,1,-3,
2,-2,3,-1,2,-3,2,-2,3,-2, 2,-3,2,-1,3,-2,2,-3,3,-2, 1,-2,3,-2,2,-1,3,-2,2,-3, 2,-2,1,-3,2,-2,3,-1,2,-2, 3,-2,2,-3,1,-2,2,-3,2,-2,
-1];

const OPP = [
2,-3,1,-2,3,-2,2,-1,3,-2, 1,-3,2,-2,1,-2,3,-1,2,-2, 2,-3,1,-2,3,-2,2,-3,1,-2, 2,-2,3,-1,2,-3,2,-2,1,-3, 2,-1,3,-2,2,-2,1,-3,2,-2,
3,-2,1,-2,2,-3,2,-1,3,-2, 2,-2,3,-1,2,-3,1,-2,2,-2, 3,-1,2,-3,2,-2,1,-2,3,-2, 1,-3,2,-2,3,-1,2,-2,1,-3, 2,-2,3,-2,1,-2,3,-2,2,-1,
2,-1,3,-2,2,-3,1,-2,2,-1, 3,-2,2,-3,1,-2,2,-3,2,-1, 3,-2,2,-3,1,-2,3,-2,4,-2, 2,-3,1,-2,3,-1,2,-2,3,-2, 2,-1,3,-2,2,-3,1,-2,2,-2,
3,-2,1,-3,2,-2,3,-1,2,-2, 2,-3,2,-1,3,-2,2,-2,1,-3, 2,-2,3,-1,2,-2,3,-2,2,-4, 26,-15,10,-8,7,-6,5,-9,6,-4, 5,-4,6,-5,4,-5,6,-4,5,-3,
4,-3,5,-4,3,-2,4,-3,2,-3, 3,-2,2,-3,3,-2,2,-1,3,-2, 2,-2,3,-2,2,-3,1,-2,3,-2, 1,-3,2,-2,3,-2,2,-1,3,-2, 2,-2,1,-3,2,-2,3,-2,2,-1,
3,-2,2,-3,1,-2,2,-3,2,-2, 3,-1,2,-2,3,-2,1,-3,2,-2, 2,-3,2,-2,4,-3,3,-2,4,-3, 5,-6,5,-8,7,-6,8,-7,15,-10, 12,-10,14,-12,-16,28,-26,22,-37,25,
30,-20,16,-14,12,-12,10,-9,9,-8, 8,-7,7,-6,6,-8,7,-5,6,-7, 6,-5,5,-6,6,-5,5,-4,5,-4, 4,-5,5,-4,4,-3,4,-4,3,-4, 3,-4,3,-2,4,-3,2,-3,3,-2,
2,-3,2,-2,3,-1,2,-3,2,-2, 3,-2,1,-2,3,-2,2,-3,1,-2, 2,-2,3,-1,2,-3,2,-2,3,-2, 1,-3,2,-2,3,-2,2,-1,3,-2, 2,-2,1,-3,2,-2,3,-2,2,-1,
3,-2,2,-3,1,-2,2,-3,2,-2, 3,-1,2,-2,3,-2,1,-3,2,-2, 2,-3,2,-2,3,-1,2,-2,3,-2, 1,-2,3,-2,2,-3,2,-1,3,-2, 2,-2,1,-3,2,-2,3,-2,2,-1,
3,-2,2,-3,1,-2,2,-3,2,-2, 2,-1,3,-2,2,-3,1,-2,3,-2, 2,-3,2,-2,1,-2,3,-2,2,-1, 3,-2,2,-1,3,-2,2,-3,1,-2, 2,-3,1,-2,3,-2,2,-2,3,-1,
2,-2,3,-2,1,-3,2,-2,2,-1, 3,-2,2,-3,2,-1,3,-2,6,-3, 2,-2,3,-1,2,-3,2,-2,1,-2, 3,-2,2,-3,1,-2,3,-2,2,-1, 2,-3,1,-2,3,-2,2,-2,3,-1,
2,-2,3,-2,1,-3,2,-2,2,-1, 3,-2,2,-3,2,-1,3,-2,2,-2, 1,-3,2,-2,3,-2,1,-2,3,-2, 2,-1,2,-3,2,-2,3,-2,1,-3, 2,-2,3,-1,2,-3,2,-2,3,-2,
1];

const EMING = [
3,-4,2,-5,4,-3,5,-2,4,-3, 2,-4,5,-3,2,-4,3,-5,4,-2, 3,-4,2,-5,3,-3,4,-2,3,-5, 4,-3,2,-4,5,-2,3,-4,2,-3, 5,-4,3,-2,4,-5,3,-2,4,-3,
2,-5,3,-4,2,-3,5,-4,3,-2, 4,-3,2,-5,4,-3,2,-4,3,-5, 4,-2,3,-4,5,-3,2,-4,3,-2, 5,-3,4,-2,3,-5,4,-3,2,-4, 3,-5,2,-4,3,-2,5,-3,4,-2,
3,-4,2,-5,3,-4,2,-3,5,-4, 3,-2,4,-3,2,-5,4,-3,2,-4, 5,-3,2,-4,3,-2,4,-5,3,-2, 4,-3,5,-2,3,-4,2,-3,4,-5, 3,-2,4,-3,5,-2,3,-4,2,-3,
4,-2,3,-5,4,-3,2,-4,3,-2, 5,-4,2,-3,4,-2,5,-3,2,-4, 3,-5,4,-2,3,-4,2,-3,5,-4, 3,-2,4,-6,8,17,-10,32,-23,14, -10,12,-8,10,-9,9,-7,8,-8,10,
9,-8,10,-7,8,-9,7,-8,9,-7, 8,-9,7,14,-8,9,-7,8,-6,9, -7,8,-12,6,-8,9,-7,6,-8,7, 6,-5,7,-6,8,-5,6,-7,5,-6, 7,-5,6,-7,5,-6,7,-5,6,-4,
5,-6,4,-5,6,-4,5,-6,4,-5, 6,-4,5,-6,4,-5,6,-4,5,-6, 4,-5,6,-4,5,-6,4,-5,6,-4, 5,-6,4,-5,6,-4,5,-6,4,-5, 6,-4,5,-6,4,-5,6,-7,6,-5,
8,-10,12,-22,-29,18,-24,18,-16,20, -28,30,-36,24,-20,20,-18,16,-15,17, -14,17,-13,15,-12,15,-16,14,-12,13, -14,-15,11,-13,12,-11,15,-10,12,-11, 9,-10,8,-11,9,-9,8,-9,7,-8,
7,-6,8,-5,6,-7,5,-6,4,-5, 6,-4,5,-6,4,-5,6,-4,5,-3, 4,-6,5,-4,6,-5,4,-6,5,-4, 5,-4,6,-5,3,-4,5,-6,4,-5, 6,-5,4,-3,5,-6,4,-5,6,-4,
5,-4,6,-5,3,-4,5,-6,4,-5, 6,-4,5,-6,4,-5,3,-4,6,-5, 4,-6,5,-4,3,-5,6,-4,5,-6, 5,-4,3,-5,6,-4,5,-6,4,-3, 6,-5,4,-6,5,-3,4,-5,6,-4,
5,-6,4,-5,3,-4,6,-5,4,-6, 5,-4,6,-5,4,-6,3,-4,5,-6, 4,-5,6,-4,5,-6,4,-3,5,-4, 6,-5,4,-6,5,-4,3,-5,6,-4, 5,-6,4,-5,6,10,-5,4,-6,5,
-4,6,-5,4,-3,5,-6,4,-5,6, -4,5,-6,4,-5,3,-4,6,-5,4, -6,5,-4,3,-5,6,-4,5,-6,4, -5,4,-6,5,-3,4,-5,6,-4,5, -6,4,-5,3,-4,6,-5,4,-6,5,
-4,5,-6,4,-5,6,-3,4,-5,6, -4,6,-5,4,-6,5,-4,3,-5,4, -6,5,-4,6,-5,4,-3,5,-6,4, -5,6,-4,5,-9,4,-6,5,-4,6, -5,4,-6,5,-4,6,-5,4,-6,5,
-2];

const WALHA = [
6,-5,7,-4,5,-6,4,-7,5,-6, 7,-5,4,-6,5,-7,6,-4,5,-6, 5,-7,6,-4,5,-6,7,-5,4,-6, 6,-5,7,-4,6,-5,4,-7,5,-6, -12,7,-5,6,-4,5,-7,6,-4,5,
-6,7,-5,4,-6,5,-7,6,-5,4, -6,7,-5,6,-4,5,-6,7,-5,4, -6,5,-7,6,-5,4,-6,7,-5,6, -4,5,-6,7,-5,6,-4,5,-6,-14, 7,-5,6,-4,5,-7,6,-5,4,-6,
7,-5,6,-7,5,-6,4,-5,12,-6, 5,-7,6,-5,10,-7,6,-5,4,-6, 7,-5,6,-4,5,-7,6,-5,4,-6, 5,-7,6,-5,4,-6,7,-5,6,-4, 5,-6,7,-5,4,-6,5,-7,6,-5,
7,-5,6,-4,12,-6,5,-7,6,-4, 5,-6,7,-5,4,-6,5,-7,6,-5, 7,-5,6,-4,5,-7,6,-5,4,-6, 5,-7,6,-5,4,-6,7,-5,6,-4, 5,-6,7,-5,4,-7,6,-5,6,-15,
8,-6,7,-5,6,-7,5,-6,8,-5, -15,15,-8,7,-6,8,-5,6,-7,5, -6,8,-5,7,-6,5,-7,6,-8,5, -6,7,-5,6,-8,5,-6,7,-5,6, -7,8,-6,5,-7,6,-5,8,-6,7,
-5,6,-7,5,-6,8,-5,7,-6,5, -7,6,-5,8,-6,7,-5,6,-7,5, -6,7,-5,6,-8,5,-7,6,-5,7, -6,5,-7,8,-6,5,-7,6,-5,8, -6,7,-5,6,-7,5,-6,8,-5,6,
-7,5,-6,8,-5,7,-6,5,-8,6, -5,7,-6,5,-7,6,-5,8,-6,7, -5,6,-7,9,-10,12,-8,28,-20,22, -32,26,-24,20,-20,15,-14,18,-16,20, 36,-20,16,-20,14,-12,14,-13,12,-15,
10,-13,12,-15,9,-10,19,-11,8,-9, 10,-7,8,-6,7,-8,6,-7,5,-6, 8,-6,5,-7,6,-5,7,-6,5,-7, 6,-5,7,-6,5,-8,6,-5,7,-6, 5,-7,6,-5,8,-6,5,-7,6,-5,
7,-6,5,-8,6,-5,7,-6,5,-7, 6,-5,8,-6,5,-7,6,-5,7,-6, 5,-8,6,-5,7,-6,5,-7,6,-5, 8,-6,5,-7,6,-5,7,-6,5,-8, 6,-5,7,-6,5,-8,6,-5,7,-6,
5,-7,6,-5,8,-6,5,-7,6,-5, 7,-6,5,-8,6,-5,7,-6,5,-7, 6,-5,7,-6,5,-7,6,-5,8,-6, 5,-7,6,-5,7,-6,8,-5,6,-7, 5,-6,7,-5,6,-8,5,-7,14,-6,
5,-7,6,-5,7,-6,5,-8,6,-5, 7,-6,5,-7,6,-5,8,-6,5,-7, 6,-5,7,-6,5,-8,6,-5,7,-6, 5,-7,6,-5,8,-6,5,-7,6,-5, 7,-6,5,-8,6,-5,7,-6,5,-7,
6,-5,7,-6,5,-7,6,-5,8,-6, 5,-7,6,-5,7,-6,5,-8,6,-5, 7,-6,5,-7,12,-6,5,-7,6,-5, 8,-6,5,-7,6,-5,7,-6,5,-8, 6,-5,7,-6,5,-7,6,-5,7,-6,
-4];

const SLE = [
11,-13,10,-12,14,-11,12,-10,13,-14, 11,-12,10,-13,12,-11,14,-12,10,-13, 14,-11,12,-10,13,-12,11,-14,10,-12, 13,-11,20,-12,10,-13,14,-11,12,-10, 13,-12,10,-14,11,-13,12,-10,14,-12,
11,-13,12,-10,14,-11,13,-12,10,-14, -20,12,-11,13,-10,12,-14,11,-12,10, -13,11,-12,14,-10,12,-11,13,-12,11, -12,13,-10,12,-14,11,-13,10,-12,14, -11,12,-19,10,-12,14,-11,13,-10,12,
-13,11,-12,14,-10,12,-13,11,-12,10, -14,12,-11,13,-10,12,-14,11,-13,10, -12,14,-11,13,-12,10,-13,11,-14,12, -10,12,-13,11,-12,14,-10,12,-11,13, -12,10,-14,11,-13,12,-10,13,-11,12,
-13,11,-12,14,-10,12,-11,13,-12,10, -14,12,-11,13,-10,12,-13,11,-12,14, -10,12,-13,11,-12,14,-11,13,-10,12, -13,11,-12,10,-14,12,-11,13,-12,10, -12,14,-11,13,-10,12,-13,11,-14,12,
-11,13,-12,10,-14,11,-13,12,-11,14, -12,11,-13,12,-14,11,-13,15,-16,18, -18,22,-25,30,-32,28,-25,24,-22,25, 30,-22,26,-37,34,-28,22,-26,18,-20, 18,-23,16,-20,20,-37,24,-20,22,-16,
14,-16,15,-13,14,-15,12,-13,15,-12, 13,-15,12,-14,13,-12,15,-13,12,-14, 15,-12,13,-14,12,-15,13,-12,14,-13, 12,-14,15,-12,13,-14,12,-15,13,-12, 14,-13,12,-15,13,-12,14,-13,12,-14,
13,-11,12,-14,10,-12,13,-11,12,-10, 14,-12,11,-13,10,-12,13,-11,12,-14, 10,-12,13,-11,12,-14,10,-12,13,-11, 12,-13,11,-12,14,-10,12,-13,11,-12, 14,-10,12,-11,13,-12,10,-14,11,-12,
13,-11,12,-10,14,-12,11,-13,12,-10, 22,-13,12,-11,14,-12,13,-11,12,-14, 13,-14,16,-18,-30,33,-20,22,-18,20, -24,19,-22,20,-24,22,-17,20,-18,19, -17,30,-16,18,-15,20,-18,16,-17,18,
-16,17,-15,20,-18,27,-22,15,-16,14, -27,16,-14,17,-15,18,-16,15,-14,16, -13,14,-28,15,-13,14,-12,15,-13,14, -12,13,-15,12,-13,14,-12,13,-11,12, -13,14,-12,13,-11,12,-14,13,-12,11,
13,-12,14,-23,12,-14,11,-12,13,-11, 12,-13,11,-12,14,-10,12,-13,11,-12, 13,-11,12,-14,10,-12,13,-11,12,-14, 10,-12,13,-11,12,-14,11,-13,12,-10, 12,-13,11,-12,14,-10,12,-13,11,-12,
14,-11,12,-13,10,-12,14,-11,13,-12, 11,-13,12,-10,14,-12,11,-13,12,-11, 13,-12,11,-14,10,-12,13,-11,12,-14, 11,-12,13,-11,12,-10,14,-12,11,-13, 12,-11,13,-12,10,-14,12,-11,13,-12,
14,-10,12,-13,11,-12,13,-11,12,-14, 11,-12,13,-10,14,-12,11,-13,12,-11, 13,-11,12,-14,10,-12,13,-11,12,-13, 11,-12,14,-11,13,-12,25,-12,13,-14, 12,-11,13,-10,14,-12,11,-13,12,-11,
-6];

const MILB = [
5,-6,4,-5,7,-4,6,-5,4,-6, 5,-7,4,-6,5,-4,6,-5,7,-4, 6,-5,4,-6,5,-7,4,-5,6,-4, -11,6,-4,5,-6,4,-5,7,-4,6, -5,6,14,-8,6,-5,7,-6,5,-7,
6,-5,7,-12,8,-7,9,-6,8,-9, 7,-6,8,-7,5,-8,6,-7,5,-6, 8,-5,7,-6,5,-7,6,-5,7,-6, 5,-7,6,-5,8,-6,5,-7,6,-5, 7,-6,5,-8,6,-5,7,-6,5,-7,
6,-5,7,-8,6,-7,5,-6,7,-5, 4,-6,5,-7,6,-5,12,-10,7,-6, 5,-7,6,-5,4,-6,5,-4,6,-5, 4,-6,5,-4,6,-5,4,-6,5,-4, 5,-6,4,-5,6,-4,5,-7,4,-5,
6,-4,5,-6,4,-5,6,-4,5,-6, 4,-5,6,-4,5,-6,4,-5,7,-4, 5,-6,4,-5,6,-4,5,-6,4,-5, 6,-4,5,-6,4,-5,6,-4,5,-6, 4,-5,6,-4,5,-6,4,-5,7,-4,
5,-6,4,-5,6,-4,5,-6,4,-5, 6,-4,5,-6,4,-5,6,-4,5,-6, 4,-5,6,-4,5,-6,4,-5,6,-4, 5,-6,4,-5,6,-4,5,-6,4,-5, 6,-4,5,-6,4,-5,7,-4,5,-6,
4,-5,6,-4,5,-6,4,-5,6,-4, 5,-6,4,-5,7,-4,6,-5,4,-6, 5,-4,6,-5,4,-6,5,-4,6,-5, 4,-6,5,-4,6,-5,4,-5,6,-4, 17,-12,6,-5,4,-6,5,-4,6,-5,
4,-5,6,-4,5,-6,4,-5,6,-4, 5,-6,4,-5,7,-6,5,-4,6,-5, 4,-6,5,-4,6,-5,4,-6,5,-4, 6,-5,4,-6,5,-7,6,-4,5,-6, 4,-5,6,-4,5,-6,-13,6,-5,4,
-5,6,-4,5,-7,6,-5,4,-6,5, -4,6,-5,7,-6,5,-4,6,-5,4, -6,5,-4,6,-5,7,-6,5,-4,6, -8,10,-12,20,36,-26,24,-22,20,-23, 22,-20,22,-18,16,-17,15,-16,15,-21,
18,-12,10,-9,11,-8,10,-9,8,-10, 9,-7,8,-9,7,-8,6,-7,8,-6, 7,-5,6,-7,5,-6,7,-5,6,-7, 5,-6,4,-5,6,-4,5,-7,4,-5, 6,-4,5,-6,4,-5,6,-4,5,-6,
4,-5,6,-4,5,-6,4,-5,6,-4, 5,-6,4,-5,7,-4,5,-6,4,-5, 6,-4,5,-6,4,-5,6,-4,5,-7, 4,-5,6,-4,5,-6,4,-5,6,-4, 5,-7,4,-5,6,-4,5,-6,4,-5,
6,-4,5,-6,4,-5,7,-4,5,-6, 4,-5,6,-4,5,-6,4,-5,6,-4, 5,-6,4,-5,6,-4,5,-7,4,-5, 6,-4,5,-6,4,-5,6,-4,5,-6, 4,-5,6,-4,7,-6,4,-5,6,-4,
5,-6,4,-5,6,-4,5,-6,4,-5, 7,-5,6,-8,6,-5,7,-6,8,-6, 7,-8,6,-7,9,-8,14,-8,9,-7, 10,-9,8,-10,9,-8,10,-9,8,-10, 9,-8,10,-9,8,-11,9,-10,13,-14,
9];

const traces = [URBA, DEGG, BUCH, ZWI, GALG, HDH, MSS, BRET, WOER, SIND, ROTE, WARN, BFO, BABA, OPP, EMING, WALHA, SLE, MILB];

const FONT = '"Liberation Sans", Arial, Helvetica, sans-serif';
const plotLeft = 173, plotWidth = 1800, plotTop = 106.7, panelH = 160;
const n = stations.length;

const grids = [], xAxes = [], yAxes = [], series = [];
stations.forEach((name, k) => {
  grids.push({
    left: plotLeft, width: plotWidth, top: plotTop + panelH * k, height: panelH,
    show: true, borderColor: '#000', borderWidth: 2, backgroundColor: 'transparent'
  });
  const last = k === n - 1;
  xAxes.push({
    gridIndex: k, type: 'value', min: 0, max: 60, interval: 20,
    axisLine: { show: false },
    axisTick: { show: true, inside: true, length: 6, lineStyle: { color: '#000', width: 1.5 } },
    splitLine: { show: false },
    axisLabel: {
      show: last, color: '#000', fontSize: 32, fontFamily: FONT, margin: 10,
      showMaxLabel: false,
      formatter: v => (xTickLabels.indexOf(v) >= 0 ? String(v) : '')
    }
  });
  yAxes.push({
    gridIndex: k, type: 'value', min: -40, max: 40, interval: 40,
    axisLine: { show: false }, axisTick: { show: false }, splitLine: { show: false },
    axisLabel: {
      show: true, color: '#000', fontSize: 35, fontFamily: FONT, margin: 22,
      formatter: v => (v === 0 ? name : '')
    }
  });
  series.push({
    type: 'line', xAxisIndex: k, yAxisIndex: k,
    data: traces[k].map((v, i) => [i * sampleStep, v]),
    showSymbol: false, symbol: 'none', silent: true,
    lineStyle: { color: '#000', width: 1.5 },
    clip: true, animation: false
  });
});

const chart = echarts.init(document.getElementById('c'), null, { renderer: 'canvas' });
chart.setOption({
  backgroundColor: '#fff',
  animation: false,
  grid: grids, xAxis: xAxes, yAxis: yAxes, series: series,
  graphic: [
    { type: 'text', x: 1080, y: 81, style: { text: titleText, fill: '#000', fontSize: 37, fontWeight: 'bold', fontFamily: FONT, align: 'center', verticalAlign: 'middle' } },
    { type: 'text', x: 977, y: 3216, style: { text: xAxisTitle, fill: '#000', fontSize: 35, fontWeight: 'bold', fontFamily: FONT, align: 'center', verticalAlign: 'middle' } }
  ]
});
</script></body></html>
